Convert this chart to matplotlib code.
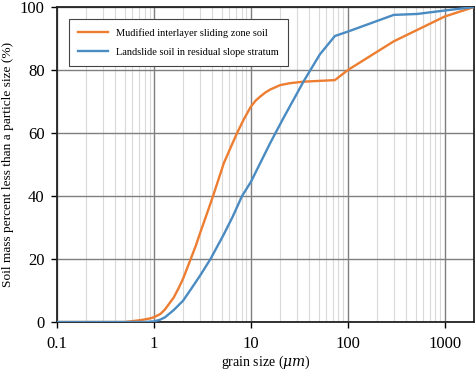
import numpy as np
import matplotlib.pyplot as plt
from matplotlib.ticker import LogLocator, FixedLocator, NullFormatter

plt.rcParams['font.family'] = ['Liberation Serif', 'DejaVu Serif']
plt.rcParams['mathtext.fontset'] = 'dejavuserif'

# grain size (um) vs cumulative percent passing
x_orange = [0.1, 0.5, 0.73, 0.9, 1, 1.17, 1.3, 1.6, 1.8, 2, 2.38, 2.7, 3.02, 3.5, 4.07,
            4.6, 5.25, 6.2, 7.2, 8.5, 10, 11.2, 12.5, 14, 15.8, 20, 25, 34.8, 73.5,
            100, 297, 1000, 2000]
y_orange = [0, 0, 0.6, 1.1, 1.5, 2.6, 4.0, 7.8, 10.8, 13.8, 19.8, 24.2, 28.6, 34.2, 40,
            45.0, 50.4, 55.5, 60, 64.5, 68.4, 70.3, 71.6, 72.8, 73.8, 75.2, 75.8, 76.3,
            76.8, 80, 89.1, 97, 100]

x_blue = [0.1, 0.5, 0.8, 1, 1.15, 1.3, 1.6, 2, 2.38, 3, 3.83, 4.5, 5.25, 6.5, 8.1, 10,
          12.5, 15.8, 21.6, 28, 34.8, 51.5, 73.5, 100, 297, 519, 1000, 2000]
y_blue = [0, 0, 0, 0.2, 0.7, 1.5, 3.8, 6.8, 10.2, 14.8, 20, 24, 27.8, 33.5, 40, 44.5,
          50.5, 56.8, 64.7, 71, 76.3, 85, 90.8, 92.2, 97.5, 97.8, 98.9, 100]

label_orange = "Mudified interlayer sliding zone soil"
label_blue = "Landslide soil in residual slope stratum"

fig = plt.figure(figsize=(4.77, 3.70), dpi=100)
ax = fig.add_axes([0.1195, 0.1297, 0.8742, 0.8513])

ax.plot(x_orange, y_orange, color='#ed7d31', lw=1.7, label=label_orange, zorder=3)
ax.plot(x_blue, y_blue, color='#4a8bc2', lw=1.7, label=label_blue, zorder=3)

ax.set_xscale('log')
ax.set_xlim(0.1, 2000)
ax.set_ylim(0, 100)
ax.xaxis.set_major_locator(FixedLocator([0.1, 1, 10, 100, 1000]))
ax.set_xticklabels(['0.1', '1', '10', '100', '1000'])
ax.xaxis.set_minor_locator(LogLocator(base=10, subs=np.arange(2, 10)))
ax.xaxis.set_minor_formatter(NullFormatter())
ax.set_yticks([0, 20, 40, 60, 80, 100])

ax.grid(which='major', color='#7f7f7f', lw=1.0)
ax.grid(which='minor', axis='x', color='#d9d9d9', lw=0.8)
ax.set_axisbelow(True)

for s in ax.spines.values():
    s.set_linewidth(1.3)
    s.set_color('#222222')
ax.tick_params(which='major', length=4, width=1, labelsize=12, direction='out')
ax.tick_params(axis='x', which='major', pad=6)
ax.tick_params(axis='y', which='major', pad=5)
ax.tick_params(which='minor', length=0)

ax.set_xlabel(r'grain size ($\mu m$)', fontsize=10, labelpad=1)
ax.set_ylabel('Soil mass percent less than a particle size (%)', fontsize=9.6, labelpad=4)

leg = ax.legend(loc='upper left', bbox_to_anchor=(0.029, 0.962), borderaxespad=0,
                fontsize=7.5, fancybox=False, edgecolor='#444444', framealpha=1,
                handlelength=2.8, borderpad=0.9, labelspacing=0.9)
leg.get_frame().set_linewidth(0.8)

fig.savefig('out.png', dpi=100)
